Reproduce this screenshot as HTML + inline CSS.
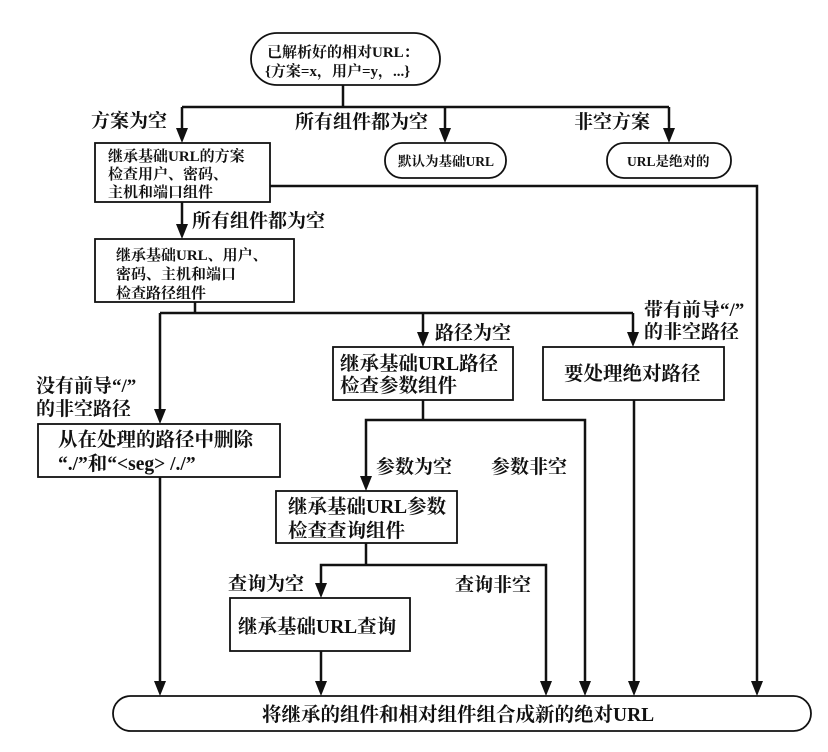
<!DOCTYPE html>
<html><head><meta charset="utf-8"><style>
html,body{margin:0;padding:0;background:#fff}
svg{display:block}
text{font-family:"Liberation Serif","Noto Serif CJK SC","Noto Sans CJK SC",serif;font-weight:bold;fill:#111}
</style></head><body>
<svg width="828" height="752" viewBox="0 0 828 752" xmlns="http://www.w3.org/2000/svg">
<g stroke="#111" stroke-width="1.8" fill="none">
<rect x="251" y="33" width="189" height="52" rx="26"/>
<rect x="95" y="143" width="175" height="59"/>
<rect x="385" y="143" width="121" height="35" rx="17"/>
<rect x="607" y="143" width="124" height="35" rx="17"/>
<rect x="95" y="239" width="199" height="63"/>
<rect x="333" y="347" width="180" height="53"/>
<rect x="543" y="347" width="181" height="53"/>
<rect x="38" y="424" width="242" height="53"/>
<rect x="276" y="491" width="181" height="52"/>
<rect x="230" y="598" width="180" height="53"/>
<rect x="113" y="696" width="698" height="35" rx="17.5"/>
</g>
<g stroke="#111" stroke-width="2.5" fill="none">
<line x1="343" y1="85" x2="343" y2="107"/>
<line x1="182" y1="107" x2="669" y2="107"/>
<line x1="182" y1="107" x2="182" y2="130"/>
<line x1="445" y1="107" x2="445" y2="130"/>
<line x1="669" y1="107" x2="669" y2="130"/>
<polyline points="270,186 757,186 757,683"/>
<line x1="182" y1="202" x2="182" y2="226"/>
<line x1="195" y1="302" x2="195" y2="313"/>
<line x1="160" y1="313" x2="633" y2="313"/>
<line x1="160" y1="313" x2="160" y2="412"/>
<line x1="423" y1="313" x2="423" y2="334"/>
<line x1="633" y1="313" x2="633" y2="334"/>
<line x1="160" y1="477" x2="160" y2="683"/>
<line x1="423" y1="400" x2="423" y2="420"/>
<polyline points="366,478 366,420 585,420 585,683"/>
<line x1="634" y1="400" x2="634" y2="683"/>
<line x1="366" y1="543" x2="366" y2="565"/>
<polyline points="321,585 321,565 546,565 546,683"/>
<line x1="321" y1="651" x2="321" y2="683"/>
</g>
<g fill="#111">
<path d="M176,128 L188,128 L182,143 Z"/>
<path d="M439,128 L451,128 L445,143 Z"/>
<path d="M663,128 L675,128 L669,143 Z"/>
<path d="M176,224 L188,224 L182,239 Z"/>
<path d="M154,409 L166,409 L160,424 Z"/>
<path d="M417,332 L429,332 L423,347 Z"/>
<path d="M627,332 L639,332 L633,347 Z"/>
<path d="M360,476 L372,476 L366,491 Z"/>
<path d="M315,583 L327,583 L321,598 Z"/>
<path d="M154,681 L166,681 L160,696 Z"/>
<path d="M315,681 L327,681 L321,696 Z"/>
<path d="M540,681 L552,681 L546,696 Z"/>
<path d="M579,681 L591,681 L585,696 Z"/>
<path d="M628,681 L640,681 L634,696 Z"/>
<path d="M751,681 L763,681 L757,696 Z"/>
</g>
<g font-size="15">
<text x="267" y="57">已解析好的相对URL：</text>
<text x="265" y="76">{方案=x，用户=y，...}</text>
<text x="108" y="161">继承基础URL的方案</text>
<text x="108" y="179">检查用户、密码、</text>
<text x="108" y="197">主机和端口组件</text>
<text x="116" y="260">继承基础URL、用户、</text>
<text x="116" y="279">密码、主机和端口</text>
<text x="116" y="298">检查路径组件</text>
</g>
<g font-size="13.5">
<text x="398" y="166">默认为基础URL</text>
<text x="627" y="166">URL是绝对的</text>
</g>
<g font-size="19">
<text x="91" y="127">方案为空</text>
<text x="295" y="128">所有组件都为空</text>
<text x="574" y="128">非空方案</text>
<text x="192" y="227">所有组件都为空</text>
<text x="435" y="339">路径为空</text>
<text x="644" y="316">带有前导“/”</text>
<text x="644" y="338">的非空路径</text>
<text x="36" y="392">没有前导“/”</text>
<text x="36" y="415">的非空路径</text>
<text x="376" y="473">参数为空</text>
<text x="491" y="473">参数非空</text>
<text x="228" y="590">查询为空</text>
<text x="455" y="591">查询非空</text>
</g>
<g font-size="19.5">
<text x="340" y="370">继承基础URL路径</text>
<text x="340" y="392">检查参数组件</text>
<text x="564" y="380">要处理绝对路径</text>
<text x="58" y="446">从在处理的路径中删除</text>
<text x="58" y="470">“./”和“&lt;seg&gt; /./”</text>
<text x="288" y="513">继承基础URL参数</text>
<text x="288" y="537">检查查询组件</text>
<text x="238" y="633">继承基础URL查询</text>
<text x="262" y="721">将继承的组件和相对组件组合成新的绝对URL</text>
</g>
</svg>
</body></html>
